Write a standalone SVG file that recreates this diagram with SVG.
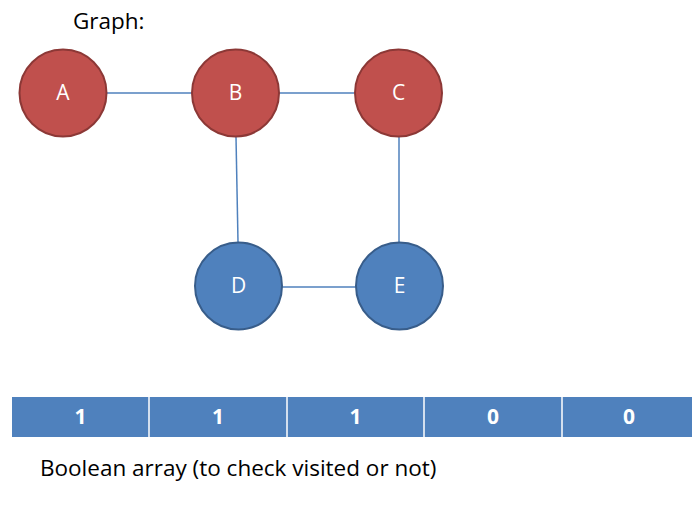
<svg xmlns="http://www.w3.org/2000/svg" width="692" height="513" viewBox="0 0 692 513">
<style>
.red{fill:#C0504D;stroke:#8C3836;stroke-width:2}
.blue{fill:#4F81BD;stroke:#385D8A;stroke-width:2}
.lbl{font-family:"Open Sans","Liberation Sans",sans-serif;font-size:21px;fill:#FFFFFF;text-anchor:middle}
.txt{font-family:"Open Sans","Liberation Sans",sans-serif;font-size:22.5px;fill:#000000}
.edge{stroke:#4F81BD;stroke-width:1.5;fill:none}
.cell{fill:#4F81BD}
.num{font-family:"Open Sans","Liberation Sans",sans-serif;font-size:21px;font-weight:bold;fill:#FFFFFF;text-anchor:middle}
</style>
<rect width="692" height="513" fill="#FFFFFF"/>
<text class="txt" x="73" y="29">Graph:</text>
<g id="connectors">
<line class="edge" x1="107" y1="93" x2="192" y2="93"/>
<line class="edge" x1="279" y1="93" x2="354" y2="93"/>
<line class="edge" x1="236" y1="137" x2="238" y2="242"/>
<line class="edge" x1="399" y1="137" x2="399" y2="242"/>
<line class="edge" x1="282" y1="287" x2="356" y2="287"/>
</g>
<g id="node-A"><circle class="red" cx="63" cy="93" r="43.5"/><text class="lbl" x="63" y="100">A</text></g>
<g id="node-B"><circle class="red" cx="235.5" cy="93" r="43.5"/><text class="lbl" x="235.5" y="100">B</text></g>
<g id="node-C"><circle class="red" cx="398.5" cy="93" r="43.5"/><text class="lbl" x="398.5" y="100">C</text></g>
<g id="node-D"><circle class="blue" cx="238.5" cy="286" r="43.5"/><text class="lbl" x="238.5" y="293">D</text></g>
<g id="node-E"><circle class="blue" cx="399.5" cy="286" r="43.5"/><text class="lbl" x="399.5" y="293">E</text></g>
<g id="array">
<rect class="cell" x="12" y="397" width="680" height="40"/>
<line x1="149" y1="397" x2="149" y2="437" stroke="#FFFFFF" stroke-width="1.5"/>
<line x1="287" y1="397" x2="287" y2="437" stroke="#FFFFFF" stroke-width="1.5"/>
<line x1="424" y1="397" x2="424" y2="437" stroke="#FFFFFF" stroke-width="1.5"/>
<line x1="562" y1="397" x2="562" y2="437" stroke="#FFFFFF" stroke-width="1.5"/>
<text class="num" x="80.5" y="424">1</text>
<text class="num" x="218" y="424">1</text>
<text class="num" x="355.5" y="424">1</text>
<text class="num" x="493" y="424">0</text>
<text class="num" x="629" y="424">0</text>
</g>
<text class="txt" x="40" y="476">Boolean array (to check visited or not)</text>
</svg>
